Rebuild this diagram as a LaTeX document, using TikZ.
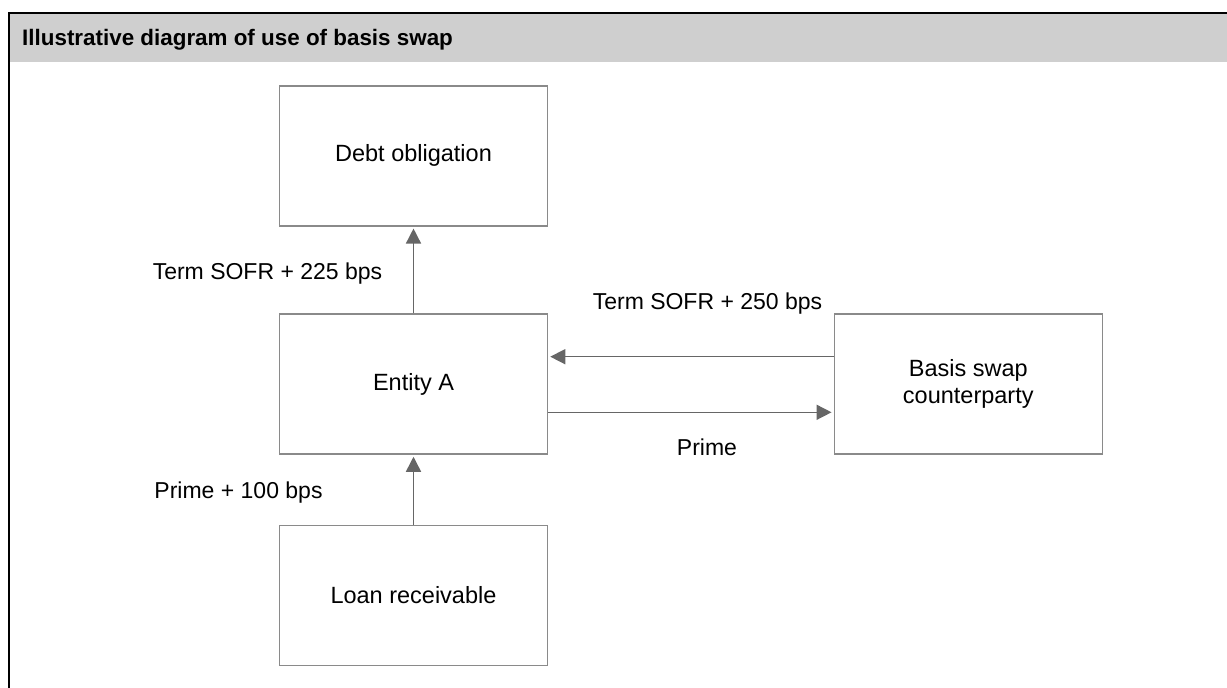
\documentclass[tikz,border=0pt]{standalone}
\usepackage{fontspec}
\setmainfont{Liberation Sans}
\usetikzlibrary{arrows.meta}
\definecolor{bandgray}{HTML}{CFCFCF}
\definecolor{boxgray}{HTML}{8A8A8A}
\definecolor{arrowgray}{HTML}{666666}
\tikzset{
  flowbox/.style={draw=boxgray, line width=1.5pt, minimum width=268pt, minimum height=140pt,
    inner sep=0pt, align=center, font=\fontsize{23.5}{27.5}\selectfont},
  flowlabel/.style={inner sep=0pt, anchor=base, font=\fontsize{23}{27}\selectfont},
  flowarrow/.style={draw=arrowgray, line width=1.5pt, shorten >=2pt,
    -{Triangle[length=15pt, width=15pt]}, arrowgray},
}
\begin{document}
\begin{tikzpicture}[x=1pt, y=-1pt]
\useasboundingbox (0,0) rectangle (1227,688);
% header band and frame
\fill[bandgray] (10,14) rectangle (1227,62);
\draw[black, line width=2pt] (9,688) -- (9,13) -- (1227,13);
\node[anchor=base west, inner sep=0pt, font=\bfseries\fontsize{22.4}{26}\selectfont] (title) at (22,45.5) {Illustrative diagram of use of basis swap};
% boxes
\node[flowbox] (debt) at (413.5,155.8) {Debt obligation};
\node[flowbox] (entity) at (413.5,384) {Entity A};
\node[flowbox] (loan) at (413.5,595.5) {Loan receivable};
\node[flowbox] (basis) at (968.3,384) {Basis swap\\counterparty};
% connectors
\draw[flowarrow] (entity.north) -- (debt.south);
\draw[flowarrow] (loan.north) -- (entity.south);
\draw[flowarrow] (basis.west |- 0,356.7) -- (entity.east |- 0,356.7);
\draw[flowarrow] (entity.east |- 0,412.3) -- (basis.west |- 0,412.3);
% labels
\node[flowlabel] (l225) at (267.5,279.3) {Term SOFR + 225 bps};
\node[flowlabel] (l250) at (707.5,309.3) {Term SOFR + 250 bps};
\node[flowlabel] (lprime) at (707,455) {Prime};
\node[flowlabel] (l100) at (238.5,498) {Prime + 100 bps};
\end{tikzpicture}
\end{document}
